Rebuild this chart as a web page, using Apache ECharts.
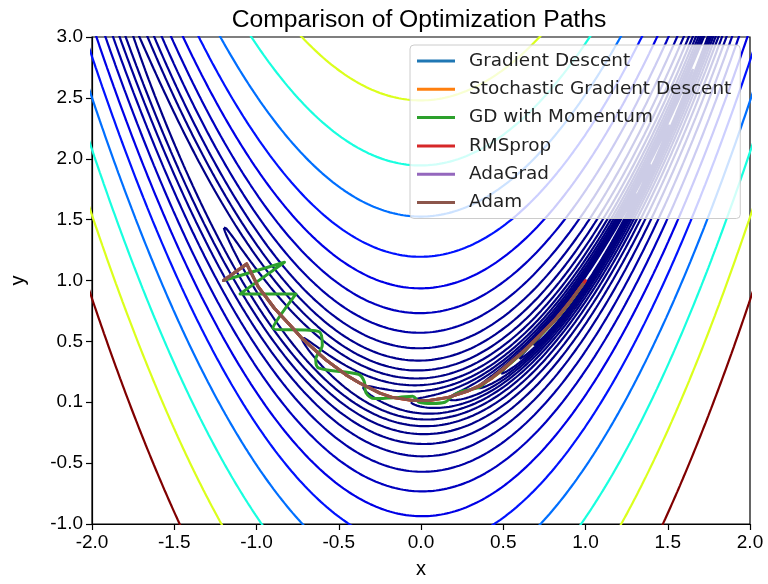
<!DOCTYPE html>
<html>
<head>
<meta charset="utf-8">
<title>Comparison of Optimization Paths</title>
<script src="https://cdn.jsdelivr.net/npm/echarts@6/dist/echarts.min.js"></script>
<style>
  html, body { margin: 0; padding: 0; background: #fff; }
  #main { width: 768px; height: 584px; }
</style>
</head>
<body>
<div id="main"></div>
<script>
// contour levels (log spaced, coloured with jet from min to max level)
const levels = [0.1, 0.1624, 0.2637, 0.4281, 0.6952, 1.129, 1.833, 2.976, 4.833, 7.848,
  12.74, 20.69, 33.6, 54.56, 88.59, 143.8, 233.6, 379.3, 615.8, 1000]

const xTickLabels = ['-2.0', '-1.5', '-1.0', '-0.5', '0.0', '0.5', '1.0', '1.5', '2.0']
const yTickLabels = ['-1.0', '-0.5', '0.1', '0.5', '1.0', '1.5', '2.0', '2.5', '3.0']

const pathNames = ['Gradient Descent', 'Stochastic Gradient Descent', 'GD with Momentum',
  'RMSprop', 'AdaGrad', 'Adam']
const pathColors = ['#1f77b4', '#ff7f0e', '#2ca02c', '#d62728', '#9467bd', '#8c564b']

// optimizer paths (x, y)
const gdPath = [[-1.2, 1.0], [-1.06, 1.136], [-0.99, 0.95], [-0.89, 0.77], [-0.78, 0.61],
  [-0.72, 0.52], [-0.58, 0.35], [-0.45, 0.22], [-0.376, 0.16], [-0.25, 0.075]]
const sgdPath = [[-1.2, 1.0], [-1.06, 1.136], [-0.99, 0.95], [-0.89, 0.77], [-0.78, 0.61],
  [-0.72, 0.52], [-0.58, 0.35], [-0.45, 0.22], [-0.376, 0.16], [-0.25, 0.075],
  [-0.175, 0.04], [-0.05, 0.015], [0.05, 0.015], [0.167, 0.04], [0.28, 0.09],
  [0.35, 0.13], [0.43, 0.195], [0.51, 0.28], [0.59, 0.375], [0.67, 0.475],
  [0.74, 0.57], [0.81, 0.665], [0.86, 0.745], [0.91, 0.83], [0.99, 0.98]]
const momentumPath = [[-1.2, 1.0], [-0.83, 1.15], [-1.1, 0.89], [-0.76, 0.89], [-0.9, 0.61],
  [-0.62, 0.58], [-0.6, 0.47], [-0.64, 0.35], [-0.62, 0.28], [-0.38, 0.23],
  [-0.345, 0.17], [-0.335, 0.08], [-0.28, 0.03], [-0.135, 0.04], [-0.05, 0.05],
  [-0.01, 0.0], [0.07, -0.01], [0.145, 0.0], [0.19, 0.05], [0.25, 0.09],
  [0.35, 0.12], [0.39, 0.16], [0.51, 0.28], [0.67, 0.475], [0.81, 0.665],
  [0.91, 0.83], [0.99, 0.98]]
const rmspropPath = [[-1.2, 1.0], [-1.06, 1.136], [-0.99, 0.95], [-0.89, 0.77], [-0.78, 0.61],
  [-0.72, 0.52], [-0.58, 0.35], [-0.45, 0.22], [-0.376, 0.16], [-0.25, 0.075],
  [-0.175, 0.04], [-0.05, 0.015], [0.05, 0.015], [0.167, 0.04], [0.28, 0.09],
  [0.35, 0.13], [0.43, 0.2], [0.51, 0.285], [0.59, 0.38], [0.67, 0.48],
  [0.74, 0.575], [0.81, 0.67], [0.86, 0.75], [0.91, 0.835], [1.0, 1.0]]
const adagradPath = [[-1.2, 1.0], [-1.13, 1.068]]
const adamPath = [[-1.2, 1.0], [-1.06, 1.136], [-0.99, 0.95], [-0.89, 0.77], [-0.78, 0.61],
  [-0.72, 0.52], [-0.58, 0.35], [-0.45, 0.22], [-0.376, 0.16], [-0.25, 0.075],
  [-0.175, 0.04], [-0.05, 0.015], [0.05, 0.015], [0.167, 0.04], [0.28, 0.09],
  [0.35, 0.135], [0.43, 0.2], [0.51, 0.29], [0.59, 0.38], [0.67, 0.48],
  [0.74, 0.575], [0.81, 0.67], [0.86, 0.75], [0.91, 0.835], [0.985, 0.97]]

const paths = [gdPath, sgdPath, momentumPath, rmspropPath, adagradPath, adamPath]

// matplotlib 'jet' segment data
function jet(v) {
  const seg = {
    r: [[0, 0], [0.35, 0], [0.66, 1], [0.89, 1], [1, 0.5]],
    g: [[0, 0], [0.125, 0], [0.375, 1], [0.64, 1], [0.91, 0], [1, 0]],
    b: [[0, 0.5], [0.11, 1], [0.34, 1], [0.65, 0], [1, 0]]
  }
  const ch = function(pts) {
    for (let i = 0; i < pts.length - 1; i++) {
      if (v <= pts[i + 1][0]) {
        const t = (v - pts[i][0]) / (pts[i + 1][0] - pts[i][0])
        return pts[i][1] + t * (pts[i + 1][1] - pts[i][1])
      }
    }
    return pts[pts.length - 1][1]
  }
  return 'rgb(' + Math.round(ch(seg.r) * 255) + ',' + Math.round(ch(seg.g) * 255) + ',' +
    Math.round(ch(seg.b) * 255) + ')'
}

// level curve of (1-x)^2 + 100(y-x^2)^2 = level, traced by angle
function contourLine(level) {
  const s = Math.sqrt(level)
  const ta = Math.acos(Math.min(1, 3.05 / s))
  const tb = Math.acos(Math.max(-1, -1.05 / s))
  const n = 500
  const pts = []
  for (let i = 0; i <= n; i++) {
    const t = ta + (tb - ta) * i / n
    const x = 1 - s * Math.cos(t)
    pts.push([x, x * x + s * Math.sin(t) / 10])
  }
  for (let i = n; i >= 0; i--) {
    const t = ta + (tb - ta) * i / n
    const x = 1 - s * Math.cos(t)
    pts.push([x, x * x - s * Math.sin(t) / 10])
  }
  return pts
}

const lmin = levels[0]
const lmax = levels[levels.length - 1]
const series = []
levels.forEach(function(L) {
  const c = jet((L - lmin) / (lmax - lmin))
  series.push({
    name: 'level ' + L,
    type: 'line',
    data: contourLine(L),
    symbol: 'none',
    silent: true,
    clip: true,
    legendHoverLink: false,
    lineStyle: { color: c, width: 2.2 },
    itemStyle: { color: c }
  })
})
paths.forEach(function(p, i) {
  series.push({
    name: pathNames[i],
    type: 'line',
    data: p,
    symbol: 'none',
    clip: true,
    smooth: i === 2 ? 0.35 : false,
    lineStyle: { color: pathColors[i], width: 3, join: 'round', cap: 'round' },
    itemStyle: { color: pathColors[i] }
  })
})

const tickFont = 'Liberation Sans, Arial, sans-serif'
const chart = echarts.init(document.getElementById('main'))
chart.setOption({
  animation: false,
  title: {
    text: 'Comparison of Optimization Paths',
    left: 414,
    textAlign: 'center',
    top: 3,
    textStyle: { fontFamily: tickFont, fontSize: 24.7, fontWeight: 'normal', color: '#000' }
  },
  grid: {
    left: 88,
    right: 18,
    top: 37,
    bottom: 54,
    show: true,
    borderColor: '#000',
    borderWidth: 1.2,
    backgroundColor: 'transparent'
  },
  legend: {
    orient: 'vertical',
    left: 410,
    top: 45,
    data: pathNames,
    icon: 'rect',
    itemWidth: 38,
    itemHeight: 3,
    itemGap: 8.3,
    padding: [6, 9, 6, 7],
    backgroundColor: 'rgba(255,255,255,0.8)',
    borderColor: '#cccccc',
    borderWidth: 1,
    borderRadius: 4,
    itemStyle: { borderWidth: 0 },
    textStyle: {
      fontFamily: 'DejaVu Sans',
      fontSize: 18.4,
      lineHeight: 20,
      color: '#222',
      padding: [0, 0, 0, 9]
    }
  },
  xAxis: {
    type: 'value',
    min: -2,
    max: 2,
    interval: 0.5,
    name: 'x',
    nameLocation: 'middle',
    nameGap: 35,
    nameTextStyle: { fontFamily: tickFont, fontSize: 20, color: '#000' },
    splitLine: { show: false },
    axisLine: { onZero: false, lineStyle: { color: '#000', width: 1.2 } },
    axisTick: { length: 6, lineStyle: { color: '#000', width: 1.2 } },
    axisLabel: {
      fontFamily: tickFont,
      fontSize: 19,
      color: '#000',
      margin: 9,
      formatter: function(v, i) { return xTickLabels[i] }
    }
  },
  yAxis: {
    type: 'value',
    min: -1,
    max: 3,
    interval: 0.5,
    name: 'y',
    nameLocation: 'middle',
    nameGap: 64,
    nameTextStyle: { fontFamily: tickFont, fontSize: 20, color: '#000' },
    splitLine: { show: false },
    axisLine: { onZero: false, lineStyle: { color: '#000', width: 1.2 } },
    axisTick: { length: 6, lineStyle: { color: '#000', width: 1.2 } },
    axisLabel: {
      fontFamily: tickFont,
      fontSize: 19,
      color: '#000',
      margin: 9,
      formatter: function(v, i) { return yTickLabels[i] }
    }
  },
  series: series
})
</script>
</body>
</html>
